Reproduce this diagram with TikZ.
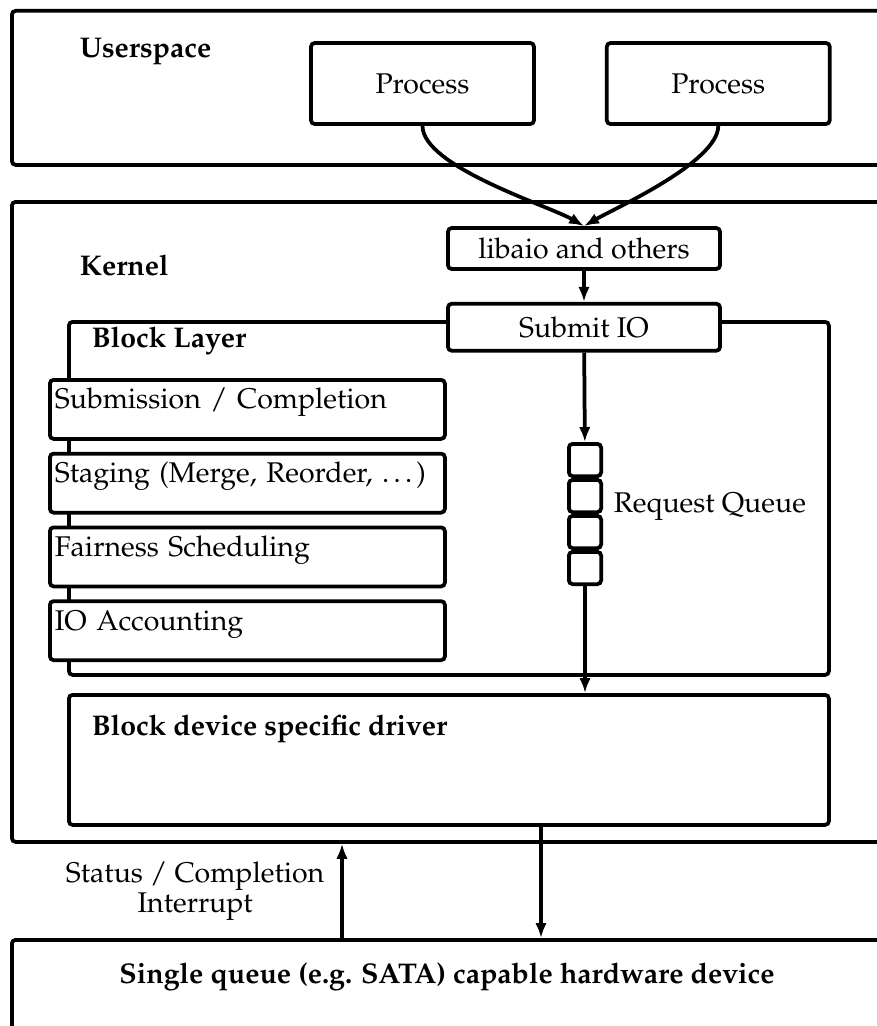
\documentclass[tikz,border=0pt]{standalone}
\usepackage[T1]{fontenc}
\usepackage{mathpazo}
\usetikzlibrary{arrows.meta, positioning}

\begin{document}
\begin{tikzpicture}[
    x=0.4pt, y=0.4pt, >={Latex[length=6pt,width=4.6pt]},
    line width=1.5pt, node distance=4.4pt,
    font=\fontsize{11.4pt}{11pt}\selectfont,
    box/.style={draw, rounded corners=1.5pt, fill=white, inner sep=0pt},
    title/.style={font=\fontsize{11.4pt}{11pt}\selectfont\bfseries, inner sep=0pt},
    proc/.style={box, minimum width=89.2pt, minimum height=32.4pt},
    stage/.style={box, minimum width=158pt, text width=154pt, align=left,
                  text height=11.6pt, text depth=12pt, inner xsep=2pt},
    slot/.style={box, minimum size=12.9pt}
  ]
  \useasboundingbox (0,0) rectangle (877,-1026);
  \clip (0,0) rectangle (877,-1026);

  % userspace
  \node[box, anchor=north west, minimum width=356pt, minimum height=61.6pt]
    (user) at (10,-9) {};
  \node[title, anchor=base west] (usertitle) at (78,-58) {Userspace};
  \node[proc] (proc1) at (422.5,-83.5) {Process};
  \node[proc, right=27.6pt of proc1] (proc2) {Process};

  % kernel
  \node[box, anchor=north west, minimum width=356pt, minimum height=256pt]
    (kernel) at (10,-200) {};
  \node[title, anchor=base west] (kerneltitle) at (78,-275) {Kernel};
  \node[box, anchor=north west, minimum width=304pt, minimum height=141.2pt]
    (block) at (67,-320) {};
  \node[title, anchor=base west] (blocktitle) at (90,-347) {Block Layer};
  \node[box, minimum width=108.8pt, minimum height=16.4pt]
    (lib) at (584,-248.5) {libaio and others};
  \node[box, minimum width=108.8pt, minimum height=18.8pt, below=12.4pt of lib]
    (submit) {Submit IO};

  \node[stage, anchor=north west] (submission) at (48,-378)
    {Submission / Completion};
  \node[stage, below=of submission] (staging) {Staging (Merge, Reorder, \dots)};
  \node[stage, below=of staging] (fairness) {Fairness Scheduling};
  \node[stage, below=of fairness] (accounting) {IO Accounting};

  % request queue
  \node[slot, anchor=north] (q1) at (585,-442) {};
  \node[slot, below=0pt of q1] (q2) {};
  \node[slot, below=0pt of q2] (q3) {};
  \node[slot, below=0pt of q3] (q4) {};
  \node[anchor=west, inner sep=0pt] (qlabel) at (612,-507) {Request Queue};

  \node[box, anchor=north west, minimum width=304pt, minimum height=52pt]
    (driver) at (67,-693) {};
  \node[title, anchor=base west] (drivertitle) at (90,-735)
    {Block device specific driver};

  % hardware
  \node[box, anchor=north west, minimum width=356pt, minimum height=80pt]
    (hw) at (10,-938) {};
  \node[title] (hwtitle) at (447,-977)
    {Single queue (e.g. SATA) capable hardware device};

  \draw[->] (proc1.south) to[out=-90, in=150, looseness=0.55] (lib.north);
  \draw[->] (proc2.south) to[out=-90, in=30, looseness=0.55] (lib.north);
  \draw[->] (lib) -- (submit);
  \draw[->] (submit) -- (q1);
  \draw[->] (q4) -- (q4 |- driver.north);

  \coordinate (cmd) at (541,0);
  \coordinate (irq) at (342,0);
  \draw[->] (cmd |- driver.south) -- (cmd |- hw.north);
  \draw[->] (irq |- hw.north) -- node[left=3pt, align=center]
    {Status / Completion\\Interrupt} (irq |- kernel.south);
\end{tikzpicture}
\end{document}
